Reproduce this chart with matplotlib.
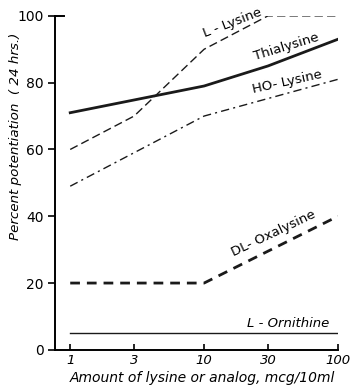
import matplotlib
matplotlib.use("Agg")
import matplotlib.pyplot as plt

doses = [1, 3, 10, 30, 100]
l_lysine = [60, 70, 90, 100, 100]
thia_x = [1, 10, 30, 100]
thialysine = [71, 79, 85, 93]
ho_x = [1, 10, 100]
ho_lysine = [49, 70, 81]
oxa_x = [1, 10, 100]
dl_oxalysine = [20, 20, 40]
orn_x = [1, 100]
l_ornithine = [5, 5]

xticks = [1, 3, 10, 30, 100]
xticklabels = ["1", "3", "10", "30", "100"]
yticks = [0, 20, 40, 60, 80, 100]

plt.rcParams['font.family'] = ['DejaVu Sans']
fig = plt.figure(figsize=(3.55, 3.87), dpi=100)
ax = fig.add_axes([0.155, 0.096, 0.797, 0.863])
c = '#1a1a1a'
ax.plot(doses, l_lysine, color=c, lw=1.0, ls=(0, (6, 3)))
ax.plot(thia_x, thialysine, color=c, lw=2.0)
ax.plot(ho_x, ho_lysine, color=c, lw=1.0, ls=(0, (6, 3, 1.5, 3)))
ax.plot(oxa_x, dl_oxalysine, color=c, lw=2.0, ls=(0, (3.5, 2.5)))
ax.plot(orn_x, l_ornithine, color=c, lw=1.0)

ax.set_xscale('log')
ax.set_xlim(0.77, 100)
ax.set_ylim(0, 100)
ax.set_xticks(xticks)
ax.set_xticklabels(xticklabels, style='italic', fontsize=9.5)
ax.xaxis.set_minor_locator(matplotlib.ticker.NullLocator())
ax.set_yticks(yticks)
ax.set_yticklabels([str(v) for v in yticks], fontsize=10)
ax.tick_params(axis='x', direction='in', length=4, width=1.2, pad=3)
ax.tick_params(axis='y', direction='out', length=5, width=1.2, pad=3)
for s in ['top', 'right']:
    ax.spines[s].set_visible(False)
for s in ['left', 'bottom']:
    ax.spines[s].set_linewidth(1.4)
ax.plot([0, 0.03], [1, 1], transform=ax.transAxes, color='black', lw=1.4, clip_on=False)

ax.set_xlabel("Amount of lysine or analog, mcg/10ml", style='italic', fontsize=10)
ax.xaxis.label.set_va('center')
ax.xaxis.set_label_coords(0.52, -0.083)
ax.set_ylabel("Percent potentiation  ( 24 hrs.)", style='italic', fontsize=9.7)
ax.yaxis.set_label_coords(-0.118, 0.64)

fs = 9.5
ax.text(16.2, 97.8, "L - Lysine", rotation=21, ha='center', va='center', fontsize=fs)
ax.text(41.5, 90.7, "Thialysine", rotation=17, ha='center', va='center', fontsize=fs)
ax.text(41.5, 80.2, "HO- Lysine", rotation=12.5, ha='center', va='center', fontsize=fs)
ax.text(32.8, 35, "DL- Oxalysine", rotation=25.5, ha='center', va='center', fontsize=fs)
ax.text(42.3, 8, "L - Ornithine", rotation=0, ha='center', va='center', fontsize=fs, style='italic')

fig.savefig("out.png", dpi=100)
